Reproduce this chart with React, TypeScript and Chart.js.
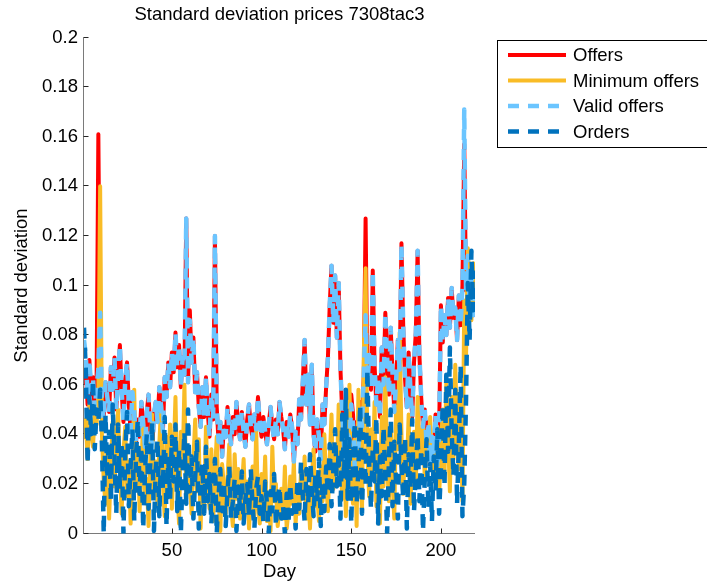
import React, { useEffect, useRef } from "react";
import { Chart, registerables } from "chart.js";

Chart.register(...registerables);

// Day index 1..219
const days: number[] = [];
for (let d = 1; d <= 219; d++) days.push(d);

const offers = [
  0.060, 0.066, 0.052, 0.070, 0.056, 0.063, 0.048, 0.059, 0.161, 0.072,
  0.053, 0.046, 0.061, 0.055, 0.049, 0.067, 0.058, 0.071, 0.050, 0.064,
  0.076, 0.057, 0.045, 0.062, 0.069, 0.052, 0.041, 0.057, 0.049, 0.037,
  0.046, 0.039, 0.053, 0.044, 0.035, 0.049, 0.056, 0.041, 0.033, 0.048,
  0.053, 0.045, 0.059, 0.051, 0.041, 0.063, 0.055, 0.069, 0.059, 0.073,
  0.065, 0.081, 0.067, 0.076, 0.059, 0.071, 0.064, 0.127, 0.061, 0.090,
  0.069, 0.079, 0.057, 0.065, 0.051, 0.043, 0.059, 0.047, 0.063, 0.049,
  0.039, 0.056, 0.046, 0.120, 0.051, 0.037, 0.045, 0.031, 0.043, 0.039,
  0.051, 0.042, 0.036, 0.047, 0.040, 0.053, 0.044, 0.038, 0.049, 0.041,
  0.035, 0.046, 0.052, 0.043, 0.038, 0.048, 0.042, 0.055, 0.045, 0.039,
  0.047, 0.041, 0.036, 0.044, 0.051, 0.043, 0.038, 0.046, 0.040, 0.053,
  0.047, 0.042, 0.034, 0.045, 0.039, 0.048, 0.043, 0.029, 0.041, 0.036,
  0.054, 0.046, 0.061, 0.078, 0.052, 0.064, 0.044, 0.068, 0.040, 0.033,
  0.046, 0.039, 0.030, 0.052, 0.044, 0.059, 0.071, 0.092, 0.108, 0.085,
  0.104, 0.079, 0.101, 0.066, 0.048, 0.035, 0.029, 0.042, 0.037, 0.056,
  0.048, 0.031, 0.045, 0.039, 0.053, 0.046, 0.064, 0.127, 0.060, 0.072,
  0.058, 0.106, 0.068, 0.052, 0.063, 0.047, 0.075, 0.060, 0.089, 0.071,
  0.056, 0.083, 0.065, 0.049, 0.061, 0.078, 0.066, 0.117, 0.083, 0.062,
  0.051, 0.073, 0.058, 0.047, 0.069, 0.081, 0.114, 0.072, 0.055, 0.043,
  0.050, 0.036, 0.045, 0.028, 0.039, 0.033, 0.048, 0.026, 0.041, 0.092,
  0.077, 0.088, 0.080, 0.095, 0.083, 0.099, 0.087, 0.091, 0.078, 0.096,
  0.084, 0.100, 0.157, 0.098, 0.112, 0.094, 0.106, 0.088, 0.095,
];

const minimumOffers = [
  0.038, 0.046, 0.030, 0.052, 0.041, 0.035, 0.048, 0.044, 0.056, 0.140,
  0.040, 0.021, 0.012, 0.034, 0.006, 0.028, 0.045, 0.019, 0.037, 0.050,
  0.026, 0.008, 0.033, 0.043, 0.015, 0.029, 0.004, 0.024, 0.058, 0.018,
  0.035, 0.009, 0.027, 0.046, 0.013, 0.022, 0.003, 0.031, 0.048, 0.017,
  0.029, 0.011, 0.036, 0.052, 0.020, 0.007, 0.039, 0.025, 0.044, 0.010,
  0.032, 0.055, 0.019, 0.004, 0.041, 0.027, 0.060, 0.014, 0.035, 0.022,
  0.008, 0.030, 0.046, 0.017, 0.038, 0.002, 0.026, 0.012, 0.043, 0.020,
  0.010, 0.034, 0.005, 0.024, 0.039, 0.015, 0.001, 0.028, 0.019, 0.008,
  0.022, 0.036, 0.011, 0.003, 0.032, 0.014, 0.026, 0.006, 0.018, 0.030,
  0.009, 0.021, 0.002, 0.015, 0.027, 0.007, 0.042, 0.012, 0.004, 0.024,
  0.010, 0.031, 0.005, 0.016, 0.001, 0.035, 0.013, 0.020, 0.003, 0.011,
  0.018, 0.006, 0.027, 0.002, 0.009, 0.023, 0.012, 0.029, 0.004, 0.017,
  0.008, 0.025, 0.014, 0.031, 0.006, 0.019, 0.002, 0.022, 0.034, 0.011,
  0.016, 0.005, 0.027, 0.013, 0.040, 0.021, 0.009, 0.030, 0.048, 0.018,
  0.036, 0.024, 0.052, 0.033, 0.014, 0.046, 0.007, 0.029, 0.060, 0.020,
  0.012, 0.038, 0.003, 0.058, 0.026, 0.009, 0.072, 0.107, 0.031, 0.015,
  0.042, 0.024, 0.053, 0.011, 0.036, 0.004, 0.047, 0.019, 0.063, 0.028,
  0.013, 0.044, 0.022, 0.006, 0.051, 0.034, 0.081, 0.040, 0.016, 0.037,
  0.025, 0.048, 0.012, 0.030, 0.041, 0.019, 0.055, 0.028, 0.036, 0.045,
  0.022, 0.040, 0.031, 0.047, 0.026, 0.038, 0.020, 0.043, 0.015, 0.034,
  0.050, 0.024, 0.061, 0.038, 0.017, 0.055, 0.030, 0.068, 0.042, 0.026,
  0.058, 0.013, 0.094, 0.071, 0.115, 0.098, 0.086, 0.109, 0.092,
];

const validOffers = [
  0.078, 0.072, 0.055, 0.070, 0.058, 0.063, 0.050, 0.059, 0.066, 0.089,
  0.053, 0.046, 0.061, 0.055, 0.049, 0.067, 0.058, 0.071, 0.050, 0.064,
  0.076, 0.057, 0.045, 0.062, 0.069, 0.052, 0.041, 0.057, 0.049, 0.037,
  0.046, 0.039, 0.053, 0.044, 0.035, 0.049, 0.056, 0.041, 0.033, 0.048,
  0.053, 0.045, 0.059, 0.051, 0.041, 0.063, 0.055, 0.069, 0.059, 0.073,
  0.065, 0.081, 0.067, 0.076, 0.059, 0.071, 0.064, 0.127, 0.061, 0.086,
  0.069, 0.079, 0.057, 0.065, 0.051, 0.043, 0.059, 0.047, 0.063, 0.049,
  0.039, 0.056, 0.046, 0.120, 0.051, 0.037, 0.045, 0.031, 0.043, 0.039,
  0.051, 0.042, 0.036, 0.047, 0.040, 0.053, 0.044, 0.038, 0.049, 0.041,
  0.035, 0.046, 0.052, 0.043, 0.038, 0.048, 0.042, 0.055, 0.045, 0.039,
  0.047, 0.041, 0.036, 0.044, 0.051, 0.043, 0.038, 0.046, 0.040, 0.053,
  0.047, 0.042, 0.034, 0.045, 0.039, 0.048, 0.043, 0.029, 0.041, 0.036,
  0.054, 0.046, 0.061, 0.078, 0.052, 0.064, 0.044, 0.068, 0.040, 0.033,
  0.046, 0.039, 0.030, 0.052, 0.044, 0.059, 0.071, 0.092, 0.108, 0.085,
  0.104, 0.079, 0.101, 0.066, 0.048, 0.035, 0.029, 0.042, 0.037, 0.052,
  0.044, 0.026, 0.041, 0.035, 0.049, 0.043, 0.064, 0.088, 0.060, 0.072,
  0.058, 0.106, 0.068, 0.052, 0.063, 0.047, 0.075, 0.060, 0.089, 0.071,
  0.056, 0.083, 0.065, 0.049, 0.061, 0.078, 0.066, 0.117, 0.083, 0.062,
  0.051, 0.073, 0.058, 0.047, 0.069, 0.081, 0.114, 0.072, 0.055, 0.043,
  0.050, 0.036, 0.045, 0.028, 0.039, 0.033, 0.048, 0.026, 0.041, 0.092,
  0.077, 0.088, 0.080, 0.095, 0.083, 0.099, 0.087, 0.091, 0.078, 0.096,
  0.084, 0.100, 0.171, 0.098, 0.112, 0.094, 0.106, 0.088, 0.095,
];

const orders = [
  0.083, 0.066, 0.028, 0.055, 0.040, 0.062, 0.034, 0.050, 0.045, 0.058,
  0.036, 0.000, 0.048, 0.022, 0.041, 0.013, 0.052, 0.030, 0.008, 0.044,
  0.019, 0.037, 0.000, 0.033, 0.049, 0.011, 0.027, 0.042, 0.005, 0.031,
  0.046, 0.016, 0.035, 0.002, 0.024, 0.040, 0.010, 0.029, 0.045, 0.001,
  0.026, 0.038, 0.007, 0.033, 0.018, 0.047, 0.003, 0.030, 0.014, 0.039,
  0.021, 0.044, 0.009, 0.034, 0.000, 0.025, 0.041, 0.012, 0.050, 0.017,
  0.031, 0.006, 0.023, 0.037, 0.002, 0.019, 0.028, 0.008, 0.035, 0.013,
  0.024, 0.004, 0.018, 0.030, 0.000, 0.015, 0.026, 0.009, 0.021, 0.003,
  0.017, 0.027, 0.006, 0.013, 0.022, 0.001, 0.019, 0.010, 0.025, 0.004,
  0.014, 0.020, 0.007, 0.026, 0.011, 0.002, 0.018, 0.023, 0.008, 0.015,
  0.005, 0.021, 0.012, 0.000, 0.017, 0.009, 0.024, 0.003, 0.014, 0.019,
  0.006, 0.011, 0.000, 0.016, 0.004, 0.020, 0.008, 0.013, 0.002, 0.022,
  0.010, 0.029, 0.015, 0.005, 0.026, 0.012, 0.032, 0.018, 0.007, 0.024,
  0.013, 0.030, 0.003, 0.021, 0.009, 0.027, 0.016, 0.036, 0.011, 0.025,
  0.042, 0.019, 0.033, 0.006, 0.048, 0.022, 0.058, 0.014, 0.038, 0.004,
  0.030, 0.045, 0.012, 0.026, 0.052, 0.008, 0.040, 0.019, 0.066, 0.028,
  0.010, 0.035, 0.021, 0.047, 0.004, 0.031, 0.015, 0.043, 0.024, 0.000,
  0.029, 0.050, 0.011, 0.037, 0.020, 0.006, 0.044, 0.027, 0.014, 0.039,
  0.002, 0.032, 0.018, 0.046, 0.009, 0.025, 0.040, 0.013, 0.034, 0.001,
  0.022, 0.038, 0.010, 0.028, 0.005, 0.031, 0.017, 0.042, 0.008, 0.026,
  0.052, 0.019, 0.064, 0.033, 0.075, 0.041, 0.023, 0.058, 0.012, 0.036,
  0.068, 0.007, 0.020, 0.054, 0.101, 0.078, 0.114, 0.090, 0.106,
];

const xTickValues = [50, 100, 150, 200];
const yTickValues = [0, 0.02, 0.04, 0.06, 0.08, 0.1, 0.12, 0.14, 0.16, 0.18, 0.2];
const yTickLabels = ["0", "0.02", "0.04", "0.06", "0.08", "0.1", "0.12", "0.14", "0.16", "0.18", "0.2"];

const titleText = "Standard deviation prices 7308tac3";
const xTitle = "Day";
const yTitle = "Standard deviation";

const FONT = '"Liberation Sans", Arial, Helvetica, sans-serif';
const FONT_SIZE = 18.5;

const RED = "#FF0000";
const ORANGE = "#F9BC26";
const LIGHT_BLUE = "#6BC5FF";
const DARK_BLUE = "#0072BD";
const DASH = [11, 9];

const series = [
  { label: "Offers", values: offers, color: RED, width: 4, dash: [] as number[], order: 4 },
  { label: "Minimum offers", values: minimumOffers, color: ORANGE, width: 4, dash: [] as number[], order: 3 },
  { label: "Valid offers", values: validOffers, color: LIGHT_BLUE, width: 4.5, dash: DASH, order: 2 },
  { label: "Orders", values: orders, color: DARK_BLUE, width: 4.5, dash: DASH, order: 1 },
];

// Axes frame, inward ticks, titles and the boxed legend
const decorations = {
  id: "decorations",
  beforeDatasetsDraw(chart: any) {
    const { ctx, chartArea: a, scales } = chart;
    const xs = scales.x;
    const ys = scales.y;
    const lx = Math.round(a.left) - 0.5;
    const by = Math.round(a.bottom) - 0.5;
    ctx.save();
    ctx.lineWidth = 1;
    // axis lines
    ctx.strokeStyle = "#7a7a7a";
    ctx.beginPath();
    ctx.moveTo(lx, a.top);
    ctx.lineTo(lx, by);
    ctx.lineTo(a.right, by);
    ctx.stroke();
    // inward tick marks
    ctx.strokeStyle = "#262626";
    ctx.beginPath();
    for (const v of yTickValues) {
      const py = Math.round(ys.getPixelForValue(v)) - 0.5;
      ctx.moveTo(lx, py);
      ctx.lineTo(lx + 5, py);
    }
    for (const v of xTickValues) {
      const px = Math.round(xs.getPixelForValue(v)) + 0.5;
      ctx.moveTo(px, by);
      ctx.lineTo(px, by - 5);
    }
    ctx.stroke();
    ctx.restore();
  },
  afterDraw(chart: any) {
    const { ctx, chartArea: a } = chart;
    const cx = (a.left + a.right) / 2;
    const cy = (a.top + a.bottom) / 2;
    ctx.save();
    ctx.fillStyle = "#000";
    ctx.font = `${FONT_SIZE}px ${FONT}`;
    ctx.textAlign = "center";
    ctx.textBaseline = "alphabetic";
    ctx.fillText(titleText, cx, 20);
    ctx.fillText(xTitle, cx, 577);
    ctx.save();
    ctx.translate(27, cy);
    ctx.rotate(-Math.PI / 2);
    ctx.fillText(yTitle, 0, 0);
    ctx.restore();

    // legend box
    const bx = 497.5;
    const bt = 40.5;
    const bh = 107;
    ctx.fillStyle = "#fff";
    ctx.fillRect(bx, bt, 300, bh);
    ctx.strokeStyle = "#000";
    ctx.lineWidth = 1;
    ctx.strokeRect(bx, bt, 300, bh);
    const rows = [55, 80.5, 106, 131.5];
    series.forEach((s, i) => {
      const ry = rows[i];
      ctx.beginPath();
      ctx.strokeStyle = s.color;
      ctx.lineWidth = s.width;
      ctx.setLineDash(s.dash);
      ctx.moveTo(508, ry);
      ctx.lineTo(566, ry);
      ctx.stroke();
      ctx.setLineDash([]);
      ctx.fillStyle = "#000";
      ctx.textAlign = "left";
      ctx.textBaseline = "middle";
      ctx.fillText(s.label, 573, ry + 1);
    });
    ctx.restore();
  },
};

export default function App() {
  const canvasRef = useRef<HTMLCanvasElement | null>(null);

  useEffect(() => {
    document.body.style.margin = "0";
    const canvas = canvasRef.current;
    if (!canvas) return;

    const chart = new Chart(canvas, {
      type: "line",
      data: {
        datasets: series.map((s) => ({
          label: s.label,
          data: days.map((d, i) => ({ x: d, y: s.values[i] })),
          borderColor: s.color,
          backgroundColor: s.color,
          borderWidth: s.width,
          borderDash: s.dash,
          borderCapStyle: "butt" as const,
          borderJoinStyle: "round" as const,
          pointRadius: 0,
          pointHoverRadius: 0,
          tension: 0,
          fill: false,
          order: s.order,
          clip: 0,
        })),
      },
      options: {
        animation: false,
        responsive: false,
        devicePixelRatio: 1,
        events: [],
        layout: { padding: { left: 0, top: 37.5, right: 707 - 475, bottom: 0 } },
        plugins: {
          legend: { display: false },
          title: { display: false },
          tooltip: { enabled: false },
        },
        scales: {
          x: {
            type: "linear",
            min: 1,
            max: 219,
            afterFit: (scale: any) => {
              scale.height = 51.5;
            },
            afterBuildTicks: (scale: any) => {
              scale.ticks = xTickValues.map((v) => ({ value: v }));
            },
            grid: { display: false, drawTicks: false },
            border: { display: false },
            ticks: {
              padding: 6,
              color: "#000",
              maxRotation: 0,
              autoSkip: false,
              font: { family: FONT, size: FONT_SIZE },
              callback: (v: any) => String(v),
            },
          },
          y: {
            type: "linear",
            min: 0,
            max: 0.2,
            afterFit: (scale: any) => {
              scale.width = 84;
            },
            afterBuildTicks: (scale: any) => {
              scale.ticks = yTickValues.map((v) => ({ value: v }));
            },
            grid: { display: false, drawTicks: false },
            border: { display: false },
            ticks: {
              padding: 6,
              color: "#000",
              autoSkip: false,
              font: { family: FONT, size: FONT_SIZE },
              callback: (v: any) => {
                const idx = yTickValues.findIndex((t) => Math.abs(t - Number(v)) < 1e-9);
                return idx >= 0 ? yTickLabels[idx] : "";
              },
            },
          },
        },
      },
      plugins: [decorations],
    });

    return () => {
      chart.destroy();
    };
  }, []);

  return (
    <canvas
      ref={canvasRef}
      width={707}
      height={585}
      style={{ display: "block", width: 707, height: 585 }}
    />
  );
}
